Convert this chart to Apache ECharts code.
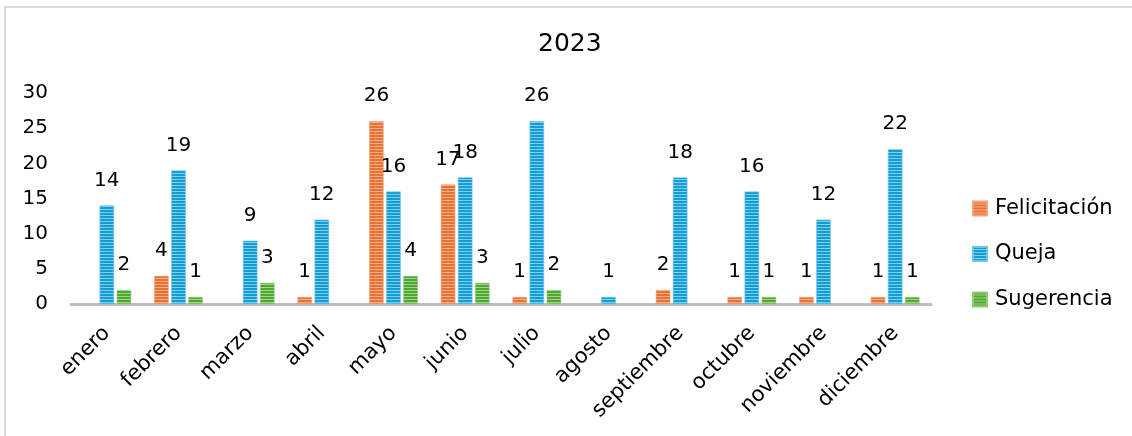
<!DOCTYPE html>
<html>
<head>
<meta charset="utf-8">
<script src="https://cdn.jsdelivr.net/npm/echarts@6/dist/echarts.min.js"></script>
<style>
  html, body { margin: 0; padding: 0; background: #ffffff; }
  #chart { width: 1132px; height: 436px; }
</style>
</head>
<body>
<div id="chart"></div>
<script>
// Monthly counts for 2023 (null = no entry that month)
const months = ['enero', 'febrero', 'marzo', 'abril', 'mayo', 'junio', 'julio', 'agosto', 'septiembre', 'octubre', 'noviembre', 'diciembre'];
const felicitacion = [null, 4, null, 1, 26, 17, 1, null, 2, 1, 1, 1];
const queja = [14, 19, 9, 12, 16, 18, 26, 1, 18, 16, 12, 22];
const sugerencia = [2, 1, 3, null, 4, 3, 2, null, null, 1, null, 1];
const yTicks = [0, 5, 10, 15, 20, 25, 30];

const FONT = '"DejaVu Sans", "Noto Sans", sans-serif';

// Horizontal stripe fill: two rows of base colour, one lighter row
function stripes(base, light) {
  const c = document.createElement('canvas');
  c.width = 4; c.height = 3;
  const ctx = c.getContext('2d');
  ctx.fillStyle = base; ctx.fillRect(0, 0, 4, 3);
  ctx.fillStyle = light; ctx.fillRect(0, 2, 4, 1);
  return { image: c, repeat: 'repeat' };
}

const fills = {
  Felicitación: stripes('#E97132', '#F4B08C'),
  Queja: stripes('#0F9ED5', '#85CDEA'),
  Sugerencia: stripes('#4EA72E', '#A3D38F')
};
const edges = { Felicitación: '#F2A37A', Queja: '#6FC4E6', Sugerencia: '#93CB7D' };

function barSeries(name, values) {
  return {
    name: name,
    type: 'bar',
    data: values,
    barWidth: 14.5,
    barGap: '18%',
    itemStyle: { color: fills[name], borderColor: edges[name], borderWidth: 0.6 },
    label: {
      show: true,
      position: 'top',
      distance: 15,
      color: '#000000',
      fontSize: 20,
      fontFamily: FONT
    }
  };
}

const chart = echarts.init(document.getElementById('chart'), null, { renderer: 'canvas' });
chart.setOption({
  animation: false,
  backgroundColor: '#ffffff',
  title: {
    text: '2023',
    left: 538,
    top: 32,
    padding: 0,
    textStyle: { fontSize: 25, fontWeight: 'normal', color: '#000000', fontFamily: FONT }
  },
  graphic: [{
    type: 'rect',
    shape: { x: 5, y: 7, width: 1300, height: 600 },
    style: { fill: 'none', stroke: '#d9d9d9', lineWidth: 2 },
    silent: true
  }],
  legend: {
    orient: 'vertical',
    left: 972,
    top: 198,
    padding: 0,
    itemWidth: 14,
    itemHeight: 14,
    itemGap: 24.5,
    icon: 'rect',
    textStyle: { fontSize: 21, color: '#000000', fontFamily: FONT, padding: [0, 0, 0, 3] },
    data: ['Felicitación', 'Queja', 'Sugerencia']
  },
  grid: { left: 71, right: 201, top: 93, bottom: 132 },
  xAxis: {
    type: 'category',
    data: months,
    axisLine: { show: true, lineStyle: { color: '#bfbfbf', width: 3 } },
    axisTick: { show: false },
    axisLabel: {
      rotate: 45,
      interval: 0,
      margin: 26,
      fontSize: 21,
      color: '#000000',
      fontFamily: FONT
    }
  },
  yAxis: {
    type: 'value',
    min: yTicks[0],
    max: yTicks[yTicks.length - 1],
    interval: 5,
    axisLine: { show: false },
    axisTick: { show: false },
    splitLine: { show: false },
    axisLabel: { margin: 23, fontSize: 20, color: '#000000', fontFamily: FONT }
  },
  series: [
    barSeries('Felicitación', felicitacion),
    barSeries('Queja', queja),
    barSeries('Sugerencia', sugerencia)
  ]
});
</script>
</body>
</html>
